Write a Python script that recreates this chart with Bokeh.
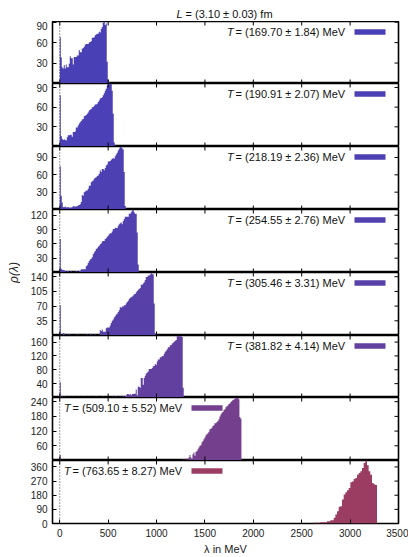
import math
from bokeh.plotting import figure
from bokeh.models import Range1d, LinearAxis, FixedTicker, Span, Label, BoxAnnotation
from bokeh.layouts import column, row
from bokeh.embed import file_html
from bokeh.resources import INLINE

# ---------------- data ----------------
title_symbol = "L"
title_rest = "= (3.10 ± 0.03) fm"
x_label = "λ in MeV"
y_label = "ρ(λ)"
x_ticks = [0, 500, 1000, 1500, 2000, 2500, 3000, 3500]

temperatures = [
    "= (169.70 ± 1.84) MeV",
    "= (190.91 ± 2.07) MeV",
    "= (218.19 ± 2.36) MeV",
    "= (254.55 ± 2.76) MeV",
    "= (305.46 ± 3.31) MeV",
    "= (381.82 ± 4.14) MeV",
    "= (509.10 ± 5.52) MeV",
    "= (763.65 ± 8.27) MeV",
]
colors = ["#4a40b6", "#4b40b5", "#4d40b2", "#5040b0", "#5741a9", "#6240a0", "#743f8d", "#9b3d63"]

y_ticks = [
    [30, 60, 90],
    [30, 60, 90],
    [30, 60, 90],
    [30, 60, 90, 120],
    [35, 70, 105, 140],
    [40, 80, 120, 160],
    [60, 120, 180, 240],
    [0, 90, 180, 270, 360],
]

# histogram bin at lambda = 0
zero_bin = [68, 78, 75, 70, 72, 44, 22, 0]
zero_width = 10.33
# main histogram bodies
body_start = [10.33, 10.33, 10.33, 10.33, 10.33, 10.33, 1247.0, 2624.0]
body_width = [10.33, 10.33, 10.33, 10.33, 10.33, 10.33, 10.33, 17.2]

counts_1 = [38, 24, 22, 27, 22, 28, 24, 24, 29, 40, 37, 37, 28, 39, 39, 39, 41, 41, 49, 46,
            46, 51, 52, 54, 57, 58, 58, 58, 60, 61, 62, 67, 67, 68, 71, 72, 73, 73, 76, 75,
            80, 83, 89, 91, 86, 88, 32, 6, 2, 0]
counts_2 = [16, 12, 10, 11, 10, 9, 14, 17, 17, 18, 18, 15, 22, 22, 23, 29, 29, 32, 35, 37,
            39, 41, 42, 46, 47, 48, 50, 52, 55, 56, 57, 60, 60, 62, 64, 64, 65, 68, 70, 73,
            74, 75, 78, 81, 85, 88, 93, 94, 96, 95, 96, 85, 50, 6, 1]
counts_3 = [24, 12, 4, 4, 5, 3, 4, 4, 3, 3, 3, 4, 6, 5, 5, 5, 6, 7, 8, 9,
            13, 25, 24, 30, 31, 33, 33, 36, 41, 41, 47, 49, 50, 53, 55, 56, 58, 59, 62, 68,
            65, 70, 70, 68, 72, 76, 78, 83, 83, 84, 86, 88, 89, 88, 92, 95, 98, 102, 105, 108,
            109, 106, 104, 65, 6]
counts_4 = [8, 6, 5, 5, 3, 0, 3, 3, 0, 1, 3, 0, 1, 2, 0, 3, 2, 0, 3, 3,
            7, 7, 7, 7, 7, 13, 15, 20, 24, 27, 29, 32, 38, 42, 45, 49, 51, 54, 56, 59,
            61, 65, 66, 66, 70, 72, 75, 77, 80, 82, 82, 86, 91, 91, 94, 93, 93, 98, 101, 103,
            105, 101, 108, 112, 117, 117, 117, 117, 123, 123, 126, 130, 132, 126, 123, 123, 84, 17]
counts_5 = [0, 0, 6, 5, 0, 0, 3, 0, 3, 0, 2, 0, 0, 2, 0, 0, 3, 0, 2, 0,
            0, 2, 0, 0, 2, 0, 3, 0, 0, 4, 0, 3, 0, 0, 3, 0, 2, 0, 2,
            13, 11, 14, 9, 9, 9, 17, 19, 19, 19, 24, 30, 35, 38, 43, 46, 50, 52, 56, 60,
            68, 66, 69, 69, 72, 72, 76, 80, 83, 87, 90, 91, 93, 95, 98, 99, 103, 106, 109, 111,
            113, 121, 121, 124, 127, 132, 139, 139, 143, 143, 145, 150, 146, 146, 76, 5]
counts_6 = [2, 3, 0, 3, 0, 2, 0, 0, 2, 0, 0, 0, 2, 0, 0, 0, 0, 2, 0, 0,
            0, 0, 2, 0, 0, 0, 0, 0, 2, 0, 0, 0, 0, 0, 0, 2, 0, 0, 0, 0,
            0, 0, 3, 0, 0, 0, 0, 0, 0, 0, 0, 3, 0, 0, 3, 3, 0, 0, 0, 3,
            0, 0, 4, 0, 4, 6,
            10, 10, 8, 10, 6, 10, 10, 11, 11, 23, 6, 32, 30, 28, 56, 56, 37, 56, 63, 69,
            72, 75, 82, 82, 82, 85, 90, 91, 97, 94, 104, 110, 110, 116, 116, 120, 120, 126, 132, 135,
            139, 145, 145, 151, 151, 156, 158, 161, 164, 166, 177, 179, 177, 177, 177, 175, 28]
counts_7 = [0, 3, 0, 5, 0, 4, 8, 3, 12, 22, 12, 5, 26, 33, 19, 35, 39, 46, 53, 60,
            62, 73, 80, 87, 94, 103, 107, 111, 117, 127, 130, 134, 141, 144, 152, 152, 157, 161, 168, 179,
            188, 195, 198, 206, 209, 217, 221, 224, 230, 233, 239, 243, 247, 249, 252, 257, 256, 256, 250, 177,
            170, 3]
counts_8 = [4, 4, 4, 4, 8, 8, 8, 8, 15, 15, 21, 21, 36, 57, 78, 106, 110, 152, 184, 199,
            211, 226, 262, 268, 283, 290, 311, 321, 332, 353, 385, 401, 370, 332, 311, 258, 250, 245]
body_counts = [counts_1, counts_2, counts_3, counts_4, counts_5, counts_6, counts_7, counts_8]

# ---------------- layout ----------------
FONT = "Liberation Sans"
X_START, X_END = -75, 3500
FRAME_W = 346
LEFT, RIGHT = 32, 10
frame_heights = [62, 63, 63, 63, 63, 62, 63, 63]
TITLE_H = 21
BOTTOM_H = 34
TOTAL_H = TITLE_H + sum(frame_heights) + BOTTOM_H
TICK_PX = 4.0

xr = Range1d(X_START, X_END)
x_per_px = (X_END - X_START) / FRAME_W


def px2x(px):
    return X_START + (px - 52.0) * x_per_px


# title figure
tf = figure(frame_width=FRAME_W, frame_height=TITLE_H, x_range=xr, y_range=Range1d(0, TITLE_H),
            toolbar_location=None, output_backend="svg", title=None,
            x_axis_location=None, y_axis_location=None,
            min_border_left=LEFT, min_border_right=RIGHT, min_border_top=0, min_border_bottom=0)
tf.grid.visible = False
tf.outline_line_color = None
tf.add_layout(Label(x=px2x(176), y=TITLE_H - 13, text=title_symbol, text_font=FONT,
                    text_font_style="italic", text_font_size="11px", text_baseline="middle",
                    text_align="left", text_color="#111"))
tf.add_layout(Label(x=px2x(185), y=TITLE_H - 13, text=title_rest, text_font=FONT,
                    text_font_size="11px", text_baseline="middle", text_align="left",
                    text_color="#111"))

panels = [tf]
n = len(body_counts)
for k in range(n):
    counts = body_counts[k]
    ymax = max(max(counts), zero_bin[k])
    fh = frame_heights[k]
    last = (k == n - 1)
    p = figure(frame_width=FRAME_W, frame_height=fh, x_range=xr, y_range=Range1d(0, ymax),
               toolbar_location=None, output_backend="svg", title=None,
               x_axis_location=None, y_axis_location=None,
               min_border_left=LEFT, min_border_right=RIGHT, min_border_top=0,
               min_border_bottom=BOTTOM_H if last else 0)
    p.grid.visible = False
    p.outline_line_color = "black"
    p.outline_line_width = 1.6
    p.background_fill_color = "white"
    p.border_fill_color = "white"

    # histogram as a filled step area
    xs = [0.0, zero_width]
    ys = [zero_bin[k], 0]
    start, w = body_start[k], body_width[k]
    if abs(start - zero_width) < 1e-9:
        xs.pop()
        ys.pop()
    for i, c in enumerate(counts):
        xs.append(start + i * w)
        ys.append(c)
    xs.append(start + len(counts) * w)
    ys.append(0)
    p.varea_step(x=xs, y1=[0] * len(xs), y2=ys, step_mode="after",
                 fill_color=colors[k], fill_alpha=1.0)

    p.add_layout(Span(location=0, dimension="height", line_color="#333",
                      line_dash="1 2", line_width=1))

    # mirrored inward ticks on the top, bottom and right edges
    dy = ymax * TICK_PX / fh
    p.segment(x0=x_ticks, x1=x_ticks, y0=[ymax] * len(x_ticks), y1=[ymax - dy] * len(x_ticks),
              line_color="black", line_width=1)
    if not last:
        p.segment(x0=x_ticks, x1=x_ticks, y0=[0] * len(x_ticks), y1=[dy] * len(x_ticks),
                  line_color="black", line_width=1)
    yt = y_ticks[k]
    p.segment(x0=[X_END] * len(yt), x1=[X_END - TICK_PX * x_per_px] * len(yt), y0=yt, y1=yt,
              line_color="black", line_width=1)

    left_ax = LinearAxis(ticker=FixedTicker(ticks=yt, minor_ticks=[]),
                         major_label_text_font=FONT, major_label_text_font_size="10px",
                         major_label_text_color="#222", major_label_standoff=5,
                         major_tick_in=4, major_tick_out=0, minor_tick_in=0, minor_tick_out=0,
                         axis_line_color=None, major_tick_line_color="black")
    p.add_layout(left_ax, "left")
    if last:
        bottom_ax = LinearAxis(ticker=FixedTicker(ticks=x_ticks, minor_ticks=[]),
                               major_label_text_font=FONT, major_label_text_font_size="10px",
                               major_label_text_color="#222", major_label_standoff=5,
                               major_tick_in=4, major_tick_out=0, minor_tick_in=0,
                               minor_tick_out=0, axis_line_color=None,
                               major_tick_line_color="black",
                               axis_label=x_label, axis_label_text_font=FONT,
                               axis_label_text_font_size="11px",
                               axis_label_text_font_style="normal",
                               axis_label_text_color="#222", axis_label_standoff=3)
        p.add_layout(bottom_ax, "below")

    # legend entry (text + colour sample)
    yc = ymax * (1 - 10.5 / fh)
    ytop = ymax * (1 - 7.7 / fh)
    ybot = ymax * (1 - 13.3 / fh)
    if k < 6:
        tx, rx, b0, b1 = 226.5, 235.0, 354.0, 385.0
    else:
        tx, rx, b0, b1 = 63.5, 72.0, 191.0, 222.0
    p.add_layout(Label(x=px2x(tx), y=yc, text="T", text_font=FONT, text_font_style="italic",
                       text_font_size="11px", text_baseline="middle", text_align="left",
                       text_color="#111"))
    p.add_layout(Label(x=px2x(rx), y=yc, text=temperatures[k], text_font=FONT,
                       text_font_size="11px", text_baseline="middle", text_align="left",
                       text_color="#111"))
    p.add_layout(BoxAnnotation(left=px2x(b0), right=px2x(b1), bottom=ybot, top=ytop,
                               fill_color=colors[k], fill_alpha=1.0, line_color=None))
    panels.append(p)

# y label strip
yf = figure(width=20, height=TOTAL_H, x_range=Range1d(0, 20), y_range=Range1d(0, TOTAL_H),
            toolbar_location=None, output_backend="svg", title=None,
            x_axis_location=None, y_axis_location=None,
            min_border_left=0, min_border_right=0, min_border_top=0, min_border_bottom=0)
yf.grid.visible = False
yf.outline_line_color = None
yf.add_layout(Label(x=13, y=TOTAL_H - 272, text=y_label, angle=math.pi / 2, text_font=FONT,
                    text_font_size="12px", text_font_style="italic", text_align="center",
                    text_baseline="middle", text_color="#222"))

layout = row(yf, column(*panels))
open("out.html", "w").write(file_html(layout, INLINE))
